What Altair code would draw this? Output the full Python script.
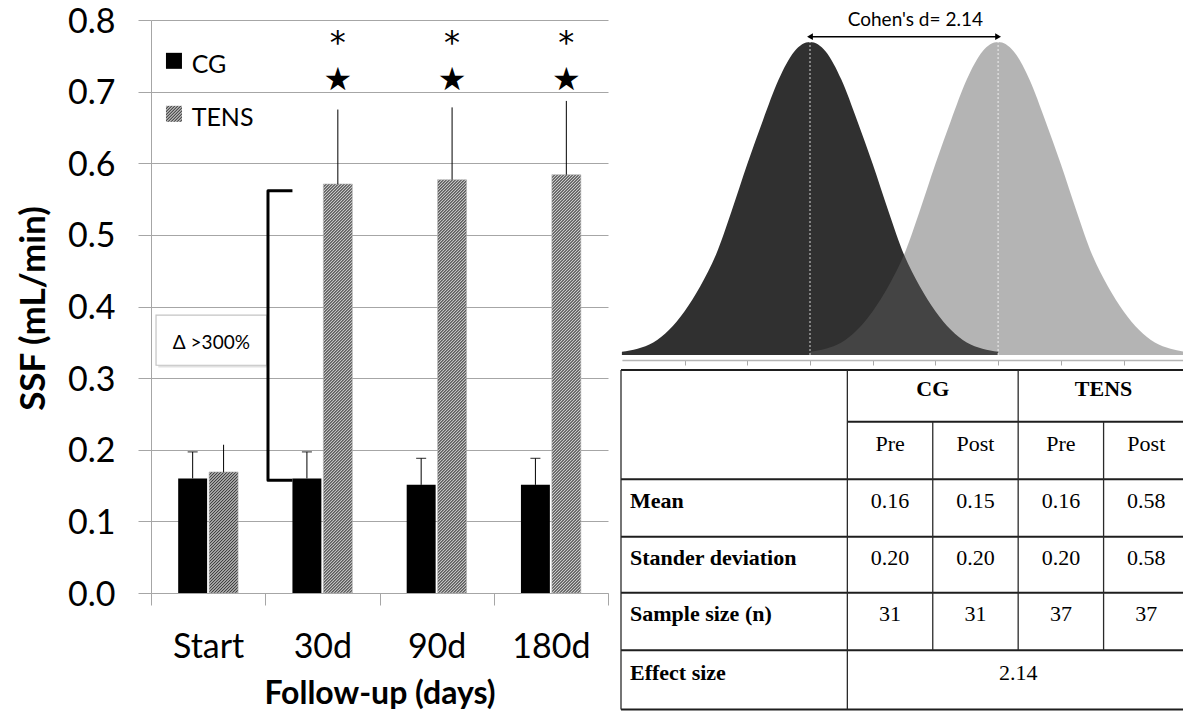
import altair as alt
import pandas as pd

# ---------------- data ----------------
categories = ["Start", "30d", "90d", "180d"]
groups = ["CG", "TENS"]
cg_mean = [0.160, 0.160, 0.151, 0.151]
cg_err = [0.037, 0.037, 0.037, 0.037]
tens_mean = [0.169, 0.571, 0.577, 0.584]
tens_err = [0.038, 0.104, 0.101, 0.103]
y_ticks = [0.0, 0.1, 0.2, 0.3, 0.4, 0.5, 0.6, 0.7, 0.8]
y_title = "SSF (mL/min)"
x_title = "Follow-up (days)"

sig_categories = ["30d", "90d", "180d"]
star_level = [0.716, 0.716, 0.716]
asterisk_level = [0.768, 0.768, 0.768]

legend_labels = ["CG", "TENS"]
legend_symbol_level = [0.743, 0.669]
legend_text_level = [0.7365, 0.663]

bracket_x = [1.238, 1.024, 1.024, 1.238]
bracket_y = [0.5615, 0.5615, 0.1574, 0.1574]

callout_label = ["Δ >300%"]
callout_x = [0.044, 1.013]
callout_y = [0.318, 0.388]

# effect-size picture (x in SD units, heights relative to peak)
dark_x = [-3.0, -2.75, -2.5, -2.25, -2.0, -1.75, -1.5, -1.25, -1.0, -0.75, -0.5, -0.25,
          0.0, 0.25, 0.5, 0.75, 1.0, 1.25, 1.5, 1.75, 2.0, 2.25, 2.5, 2.75, 3.0]
light_x = [0.0, 0.25, 0.5, 0.75, 1.0, 1.25, 1.5, 1.75, 2.0, 2.25, 2.5, 2.75,
           3.0, 3.25, 3.5, 3.75, 4.0, 4.25, 4.5, 4.75, 5.0, 5.25, 5.5, 5.75, 6.0]
dark_h = [0.01, 0.02, 0.04, 0.08, 0.14, 0.22, 0.32, 0.46, 0.61, 0.75, 0.88, 0.97,
          1.0, 0.97, 0.88, 0.75, 0.61, 0.46, 0.32, 0.22, 0.14, 0.08, 0.04, 0.02, 0.01]
light_h = [0.01, 0.02, 0.04, 0.08, 0.14, 0.22, 0.32, 0.46, 0.61, 0.75, 0.88, 0.97,
           1.0, 0.97, 0.88, 0.75, 0.61, 0.46, 0.32, 0.22, 0.14, 0.08, 0.04, 0.02, 0.01]
group_means = [0.0, 3.0]
dens_ticks = [-2, -1, 0, 1, 2, 3, 4, 5]
cohen_label = ["Cohen's d= 2.14"]

# table
table_groups = ["CG", "TENS"]
table_phases = ["Pre", "Post", "Pre", "Post"]
row_labels = ["Mean", "Stander deviation", "Sample size (n)", "Effect size"]
mean_row = ["0.16", "0.15", "0.16", "0.58"]
sd_row = ["0.20", "0.20", "0.20", "0.58"]
n_row = ["31", "31", "37", "37"]
effect_size = "2.14"
col_edges = [0, 2.65, 3.65, 4.65, 5.65, 6.65]
row_edges = [0, 0.9, 1.9, 2.9, 3.87, 4.87, 5.9]

# ---------------- layout ----------------
PX, PY = 151, 20          # page position of the bar plot area
W, H = 457, 573           # bar plot area
TOTAL_W, TOTAL_H = 1175, 703


def px(v):
    return v - PX


def py(v):
    return v - PY


SANS = "Lato"
GRID = "#a6a6a6"

# hatch pattern built from a striped linear gradient
BAR_W = (W / 4) / (2 - 0.0645 + 2 * 0.879) * (1 - 0.0645)


def hatch(w, h, period=3.0, dark="#3a3a3a", light="#d4d4d4"):
    n = (w + h) / period
    c = (1 / h + 1 / w) / (1 / h ** 2 + 1 / w ** 2)
    stops = []
    i = 0
    while True:
        off = min(i / (2 * n), 1.0)
        stops.append(alt.GradientStop(color=dark if i % 2 == 0 else light, offset=off))
        if off >= 1.0:
            break
        i += 1
    return alt.LinearGradient(gradient="linear", stops=stops, x1=0, y1=0, x2=c / h, y2=c / w)


# ---------------- bar chart ----------------
YS = alt.Scale(domain=[0, 0.8], nice=False, zero=True)
XS = alt.Scale(domain=categories, paddingInner=0, paddingOuter=0)
XO = alt.XOffset("grp:N", sort=groups,
                 scale=alt.Scale(domain=groups, paddingInner=0.0645, paddingOuter=0.879))

x_axis = alt.Axis(orient="bottom", title=x_title, tickBand="extent", labelAngle=0,
                  tickSize=12, tickColor=GRID, domainColor=GRID, grid=False,
                  labelFont=SANS, labelFontSize=34, labelColor="black", labelPadding=25,
                  titleFont=SANS, titleFontSize=32, titleFontWeight="bold", titleColor="black",
                  titleBaseline="middle", titleY=100)
y_axis = alt.Axis(orient="left", values=y_ticks, format=".1f", title=y_title, grid=True,
                  gridColor=GRID, gridWidth=1, domainColor=GRID, tickColor=GRID, tickSize=13,
                  labelFont=SANS, labelFontSize=34, labelColor="black", labelPadding=23,
                  labelOffset=2,
                  titleFont=SANS, titleFontSize=35, titleFontWeight="bold", titleColor="black",
                  titleAngle=270, titleBaseline="middle", titleAlign="center",
                  titleX=-118, titleY=288)


def X(axis=alt.Undefined):
    return alt.X("cat:N", sort=categories, scale=XS, axis=axis)


def Y(field):
    return alt.Y(field, scale=YS)


bar_df = pd.DataFrame({
    "cat": categories + categories,
    "grp": ["CG"] * 4 + ["TENS"] * 4,
    "v": cg_mean + tens_mean,
    "err": cg_err + tens_err,
})
base = alt.Chart(bar_df).transform_calculate(top="datum.v + datum.err")

cg_bars = base.transform_filter("datum.grp == 'CG'").mark_bar(color="black").encode(
    x=X(x_axis), xOffset=XO, y=alt.Y("v:Q", scale=YS, axis=y_axis))

tens_bars = []
for c, m in zip(categories, tens_mean):
    h_px = m * H / 0.8
    tens_bars.append(
        base.transform_filter(f"datum.grp == 'TENS' && datum.cat == '{c}'")
        .mark_bar(fill=hatch(BAR_W, h_px), stroke="#b0b0b0", strokeWidth=0.6)
        .encode(x=X(), xOffset=XO, y=Y("v:Q"))
    )

err_rules = base.mark_rule(color="black", strokeWidth=1).encode(
    x=X(), xOffset=XO, y=Y("v:Q"), y2="top:Q")
caps = base.transform_filter("datum.grp == 'CG'").mark_tick(
    color="black", thickness=1.2, size=10).encode(x=X(), xOffset=XO, y=Y("top:Q"))

sig_df = pd.DataFrame({"cat": sig_categories, "grp": ["TENS"] * len(sig_categories),
                       "star": star_level, "ast": asterisk_level})
stars = alt.Chart(sig_df).mark_text(text="★", font="DejaVu Sans", fontSize=32,
                                    color="black", baseline="middle").encode(
    x=X(), xOffset=XO, y=Y("star:Q"))
asts = alt.Chart(sig_df).mark_text(text="*", font="DejaVu Sans", fontSize=32,
                                   color="black", baseline="middle").encode(
    x=X(), xOffset=XO, y=Y("ast:Q"))

layer_a = alt.layer(cg_bars, *tens_bars, err_rules, caps, stars, asts)

# annotations on a continuous copy of the category axis (y shared with the bars)
AX = alt.Scale(domain=[0, 4], nice=False, zero=False)
leg_df = pd.DataFrame({"label": legend_labels, "sy": legend_symbol_level,
                       "ty": legend_text_level, "sx": [0.201, 0.201], "tx": [0.356, 0.356]})
leg_cg = alt.Chart(leg_df).transform_filter("datum.label == 'CG'").mark_square(
    size=256, filled=True, color="black", opacity=1).encode(
    x=alt.X("sx:Q", scale=AX, axis=None), y=Y("sy:Q"))
leg_tens = alt.Chart(leg_df).transform_filter("datum.label == 'TENS'").mark_square(
    size=256, filled=True, fill=hatch(16, 16, period=3.0), opacity=1).encode(
    x=alt.X("sx:Q", scale=AX, axis=None), y=Y("sy:Q"))
leg_text = alt.Chart(leg_df).mark_text(align="left", baseline="middle", font=SANS,
                                       fontSize=25, color="black").encode(
    x=alt.X("tx:Q", scale=AX, axis=None), y=Y("ty:Q"), text="label:N")

br_df = pd.DataFrame({"bx": bracket_x, "by": bracket_y, "o": list(range(len(bracket_x)))})
bracket = alt.Chart(br_df).mark_line(color="black", strokeWidth=3, strokeJoin="round",
                                     strokeCap="butt").encode(
    x=alt.X("bx:Q", scale=AX, axis=None), y=Y("by:Q"), order="o:Q")

co_df = pd.DataFrame({"x1": [callout_x[0]], "x2": [callout_x[1]], "y1": [callout_y[0]],
                      "y2": [callout_y[1]], "label": callout_label,
                      "tx": [(callout_x[0] + callout_x[1]) / 2], "ty": [0.349]})
co_shadow = alt.Chart(co_df).transform_calculate(
    sx1="datum.x1 + 0.02", sx2="datum.x2 + 0.02", sy1="datum.y1 - 0.003",
    sy2="datum.y2 - 0.003").mark_rect(fill="#d9d9d9", opacity=0.8).encode(
    x=alt.X("sx1:Q", scale=AX, axis=None), x2="sx2:Q", y=Y("sy1:Q"), y2="sy2:Q")
co_box = alt.Chart(co_df).mark_rect(fill="white", stroke="#c4c4c4", strokeWidth=1.2).encode(
    x=alt.X("x1:Q", scale=AX, axis=None), x2="x2:Q", y=Y("y1:Q"), y2="y2:Q")
co_text = alt.Chart(co_df).mark_text(font=SANS, fontSize=19, color="black",
                                     baseline="middle").encode(
    x=alt.X("tx:Q", scale=AX, axis=None), y=Y("ty:Q"), text="label:N")

layer_b = alt.layer(leg_cg, leg_tens, leg_text, co_shadow, co_box, co_text, bracket)

bar_chart = alt.layer(layer_a, layer_b).resolve_scale(x="independent")

# ---------------- effect-size curves ----------------
DXS = alt.Scale(domain=[-3, 6], range=[px(621.9), px(1186.2)], nice=False, zero=False)
DYS = alt.Scale(domain=[0, 1], range=[py(355), py(42)], nice=False, zero=False)
dens_axis = alt.Axis(orient="bottom", offset=py(360) - H, values=dens_ticks, labels=False,
                     ticks=True, tickSize=5, tickColor="#a9a9a9", domainColor="#b5b5b5",
                     domainWidth=1.5, grid=False, title=None)


def DX(field, axis=alt.Undefined):
    return alt.X(field, scale=DXS, axis=axis)


def DY(field):
    return alt.Y(field, scale=DYS, axis=None)


dark_df = pd.DataFrame({"dx": dark_x, "dh": dark_h})
light_df = pd.DataFrame({"dx": light_x, "dh": light_h})
dark_area = alt.Chart(dark_df).mark_area(color="#303030", opacity=1,
                                         interpolate="monotone").encode(
    x=DX("dx:Q", dens_axis), y=DY("dh:Q"))
light_area = alt.Chart(light_df).mark_area(color="#5b5b5b", opacity=0.46,
                                           interpolate="monotone").encode(
    x=DX("dx:Q"), y=DY("dh:Q"))

mean_df = pd.DataFrame({"m": group_means, "lo": [0, 0], "hi": [1, 1]})
mean_lines = alt.Chart(mean_df).mark_rule(color="white", strokeDash=[2, 2], strokeWidth=1,
                                          opacity=0.8).encode(
    x=DX("m:Q"), y=DY("lo:Q"), y2="hi:Q")

arrow_df = pd.DataFrame({"a0": [group_means[0]], "a1": [group_means[1]], "ay": [1.017]})
arrow = alt.Chart(arrow_df).mark_rule(color="black", strokeWidth=1.5).encode(
    x=DX("a0:Q"), x2="a1:Q", y=DY("ay:Q"))
head_l = alt.Chart(arrow_df).mark_point(shape="triangle-left", filled=True, color="black",
                                        opacity=1, size=45).encode(
    x=DX("a0:Q"), y=DY("ay:Q"))
head_r = alt.Chart(arrow_df).mark_point(shape="triangle-right", filled=True, color="black",
                                        opacity=1, size=45).encode(
    x=DX("a1:Q"), y=DY("ay:Q"))
cohen_df = pd.DataFrame({"label": cohen_label, "tx": [1.68], "ty": [1.07]})
cohen = alt.Chart(cohen_df).mark_text(font=SANS, fontSize=19, color="black",
                                      baseline="middle").encode(
    x=DX("tx:Q"), y=DY("ty:Q"), text="label:N")

dens = alt.layer(dark_area, light_area, mean_lines, arrow, head_l, head_r, cohen)

# ---------------- table ----------------
TXS = alt.Scale(domain=[0, col_edges[-1]], range=[px(621), px(1189)], nice=False, zero=False)
TYS = alt.Scale(domain=[0, row_edges[-1]], range=[py(370), py(709.5)], nice=False, zero=False)

h_lines = pd.DataFrame({
    "x1": [0, col_edges[1], 0, 0, 0, 0, 0],
    "x2": [col_edges[-1]] * 7,
    "y": row_edges,
})
v_lines = pd.DataFrame({
    "x": [col_edges[0], col_edges[1], col_edges[2], col_edges[3], col_edges[4]],
    "y1": [0, 0, row_edges[1], 0, row_edges[1]],
    "y2": [row_edges[6], row_edges[6], row_edges[5], row_edges[5], row_edges[5]],
})
t_h = alt.Chart(h_lines).mark_rule(color="#1e1e1e", strokeWidth=2).encode(
    x=alt.X("x1:Q", scale=TXS, axis=None), x2="x2:Q", y=alt.Y("y:Q", scale=TYS, axis=None))
t_v = alt.Chart(v_lines).mark_rule(color="#2a2a2a", strokeWidth=1.3).encode(
    x=alt.X("x:Q", scale=TXS, axis=None), y=alt.Y("y1:Q", scale=TYS, axis=None), y2="y2:Q")


def mid(a, b):
    return (a + b) / 2


head_rows = []
head_rows.append({"tx": mid(col_edges[1], col_edges[3]), "ty": mid(row_edges[0], row_edges[1]),
                  "label": table_groups[0]})
head_rows.append({"tx": mid(col_edges[3], col_edges[5]), "ty": mid(row_edges[0], row_edges[1]),
                  "label": table_groups[1]})
head_df = pd.DataFrame(head_rows)

val_rows = []
for j, ph in enumerate(table_phases):
    val_rows.append({"tx": mid(col_edges[j + 1], col_edges[j + 2]),
                     "ty": mid(row_edges[1], row_edges[2]), "label": ph})
for r, vals in enumerate([mean_row, sd_row, n_row]):
    for j, v in enumerate(vals):
        val_rows.append({"tx": mid(col_edges[j + 1], col_edges[j + 2]),
                         "ty": mid(row_edges[r + 2], row_edges[r + 3]), "label": v})
val_rows.append({"tx": mid(col_edges[1], col_edges[5]), "ty": mid(row_edges[5], row_edges[6]),
                 "label": effect_size})
val_df = pd.DataFrame(val_rows)

lab_df = pd.DataFrame({
    "tx": [0] * len(row_labels),
    "ty": [mid(row_edges[k + 2], row_edges[k + 3]) for k in range(len(row_labels))],
    "label": row_labels,
})

SERIF = "Liberation Serif"
t_head = alt.Chart(head_df).mark_text(font=SERIF, fontSize=22, fontWeight="bold",
                                      color="black", baseline="middle", dy=-7).encode(
    x=alt.X("tx:Q", scale=TXS, axis=None), y=alt.Y("ty:Q", scale=TYS, axis=None),
    text="label:N")
t_vals = alt.Chart(val_df).mark_text(font=SERIF, fontSize=22, color="black",
                                     baseline="middle", dy=-7).encode(
    x=alt.X("tx:Q", scale=TXS, axis=None), y=alt.Y("ty:Q", scale=TYS, axis=None),
    text="label:N")
t_labs = alt.Chart(lab_df).mark_text(font=SERIF, fontSize=22, fontWeight="bold",
                                     color="black", baseline="middle", align="left",
                                     dx=9, dy=-7).encode(
    x=alt.X("tx:Q", scale=TXS, axis=None), y=alt.Y("ty:Q", scale=TYS, axis=None),
    text="label:N")

table = alt.layer(t_h, t_v, t_head, t_vals, t_labs)

# ---------------- assemble ----------------
chart = alt.layer(bar_chart, dens, table).resolve_scale(
    x="independent", y="independent"
).properties(
    width=W, height=H,
    padding={"left": PX - 8, "top": PY - 8,
             "right": TOTAL_W - W - (PX - 8), "bottom": TOTAL_H - H - (PY - 8)},
    autosize=alt.AutoSizeParams(type="none"),
    background="white",
).configure_view(stroke=None)

chart.save("out.html", embed_options={"renderer": "svg", "actions": False})
